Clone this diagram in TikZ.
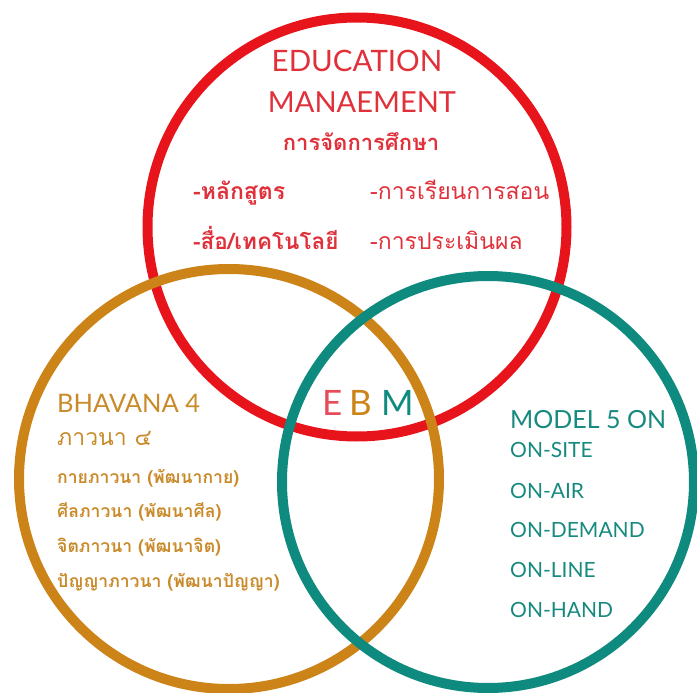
\documentclass[tikz,border=0pt]{standalone}
\usepackage{fontspec}
\setmainfont{Lato}
\newfontfamily\thai[Script=Thai]{Loma}
\definecolor{cred}{HTML}{E8141C}
\definecolor{cgold}{HTML}{CC8418}
\definecolor{cteal}{HTML}{0F8A7E}
\definecolor{tred}{HTML}{E0303A}
\definecolor{tgold}{HTML}{C98A2A}
\definecolor{tteal}{HTML}{178A7F}
\definecolor{ebmE}{HTML}{E84C5C}
\tikzset{
  ring/.style={line width=10pt},
  lat/.style={inner sep=0pt, anchor=base west},
  latc/.style={inner sep=0pt, anchor=base},
  redthai/.style={lat, text=tred, font=\thai\fontsize{23}{23}\selectfont},
  goldthai/.style={lat, text=tgold, font=\thai\bfseries\fontsize{17.6}{17.6}\selectfont},
  tealtxt/.style={lat, text=tteal, font=\fontsize{21}{21}\selectfont},
  ebm/.style={lat, font=\fontsize{35}{35}\selectfont},
}
\begin{document}
\begin{tikzpicture}[x=1pt,y=-1pt]
\useasboundingbox (0,0) rectangle (697,693);
\draw[ring, cred] (357,227) circle (209.5);
\draw[ring, cgold] (229,479) circle (210);
\draw[ring, cteal] (488,482) circle (206);
% red texts
\node[latc, text=tred, font=\fontsize{29.5}{29.5}\selectfont] (edu) at (357,72) {EDUCATION};
\node[latc, text=tred, font=\fontsize{29}{29}\selectfont] (man) at (362,113) {MANAEMENT};
\node[latc, text=tred, font=\thai\bfseries\fontsize{22}{22}\selectfont] (jad) at (361,150) {การจัดการศึกษา};
\node[redthai, font=\thai\bfseries\fontsize{23}{23}\selectfont] (r1) at (193,199) {-หลักสูตร};
\node[redthai] (r2) at (370,199) {-การเรียนการสอน};
\node[redthai, font=\thai\bfseries\fontsize{22.5}{22.5}\selectfont] (r3) at (193,249) {-สื่อ/เทคโนโลยี};
\node[redthai] (r4) at (370,249) {-การประเมินผล};
% gold texts
\node[lat, text=tgold, font=\fontsize{25.5}{25.5}\selectfont] (bh) at (57,412) {BHAVANA 4};
\node[lat, text=tgold, font=\thai\fontsize{23}{23}\selectfont] (bh2) at (57,445) {ภาวนา ๔};
\node[goldthai] (g1) at (57,483) {กายภาวนา (พัฒนากาย)};
\node[goldthai] (g2) at (57,517) {ศีลภาวนา (พัฒนาศีล)};
\node[goldthai] (g3) at (57,552) {จิตภาวนา (พัฒนาจิต)};
\node[goldthai] (g4) at (57,587) {ปัญญาภาวนา (พัฒนาปัญญา)};
% teal texts
\node[tealtxt, font=\fontsize{25}{25}\selectfont] (md) at (510,428) {MODEL 5 ON};
\node[tealtxt] (t1) at (510,457) {ON-SITE};
\node[tealtxt] (t2) at (510,498) {ON-AIR};
\node[tealtxt] (t3) at (510,537) {ON-DEMAND};
\node[tealtxt] (t4) at (510,577) {ON-LINE};
\node[tealtxt] (t5) at (510,617) {ON-HAND};
% EBM
\node[ebm, text=ebmE] (e) at (322,415) {E};
\node[ebm, text=cgold] (b) at (349,415) {B};
\node[ebm, text=cteal] (m) at (381,415) {M};
\end{tikzpicture}
\end{document}
